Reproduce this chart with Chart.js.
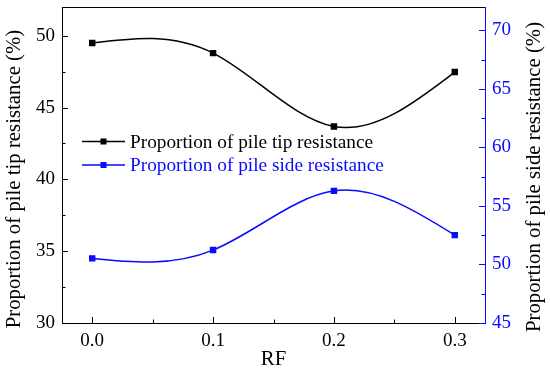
<!DOCTYPE html>
<html>
<head>
<meta charset="utf-8">
<script src="https://cdn.jsdelivr.net/npm/chart.js@4.4.1/dist/chart.umd.min.js"></script>
<style>
  body { margin: 0; background: #fff; }
  #wrap { width: 550px; height: 375px; position: relative; }
</style>
</head>
<body>
<div id="wrap"><canvas id="rfChart"></canvas></div>
<script>
const rfValues = [0.0, 0.1, 0.2, 0.3];
const tipShare = [49.49, 48.79, 43.68, 47.47];
const sideShare = [50.52, 51.23, 56.29, 52.51];

const xTicks = [0.0, 0.1, 0.2, 0.3];
const xMinor = [0.05, 0.15, 0.25];
const leftTicks = [30, 35, 40, 45, 50];
const leftMinor = [32.5, 37.5, 42.5, 47.5];
const rightTicks = [45, 50, 55, 60, 65, 70];
const rightMinor = [47.5, 52.5, 57.5, 62.5, 67.5];

const leftTitle = 'Proportion of pile tip resistance (%)';
const rightTitle = 'Proportion of pile side resistance (%)';

const BLUE = '#0a0aff';
const FONT = 'Liberation Serif';

// Origin-style natural spline: replace chart.js bezier control points
// with ones taken from a natural cubic spline through the same points
const naturalSpline = {
  id: 'naturalSpline',
  beforeDatasetsDraw(chart) {
    chart.data.datasets.forEach((ds, di) => {
      const meta = chart.getDatasetMeta(di);
      const pts = meta.data;
      const n = pts.length;
      if (n < 3) return;
      const h = [], d = [];
      for (let i = 0; i < n - 1; i++) {
        h.push(pts[i + 1].x - pts[i].x);
        d.push((pts[i + 1].y - pts[i].y) / h[i]);
      }
      // second derivatives, M[0] = M[n-1] = 0
      const M = new Array(n).fill(0);
      const a = [], b = [], c = [], r = [];
      for (let i = 1; i < n - 1; i++) {
        a.push(h[i - 1]);
        b.push(2 * (h[i - 1] + h[i]));
        c.push(h[i]);
        r.push(6 * (d[i] - d[i - 1]));
      }
      const m = b.length;
      for (let i = 1; i < m; i++) {
        const w = a[i] / b[i - 1];
        b[i] -= w * c[i - 1];
        r[i] -= w * r[i - 1];
      }
      const sol = new Array(m);
      sol[m - 1] = r[m - 1] / b[m - 1];
      for (let i = m - 2; i >= 0; i--) sol[i] = (r[i] - c[i] * sol[i + 1]) / b[i];
      for (let i = 0; i < m; i++) M[i + 1] = sol[i];

      const slope = [];
      for (let i = 0; i < n - 1; i++) slope.push(d[i] - h[i] * (2 * M[i] + M[i + 1]) / 6);
      slope.push(d[n - 2] + h[n - 2] * (M[n - 2] + 2 * M[n - 1]) / 6);

      for (let i = 0; i < n; i++) {
        const p = pts[i];
        const hl = i > 0 ? h[i - 1] / 3 : 0;
        const hr = i < n - 1 ? h[i] / 3 : 0;
        p.cp1x = p.x - hl; p.cp1y = p.y - hl * slope[i];
        p.cp2x = p.x + hr; p.cp2y = p.y + hr * slope[i];
      }
      meta.dataset._pointsUpdated = true;
      meta.dataset._path = undefined;
    });
  }
};

// ticks pointing into the plot, top frame line, axis titles and legend
const decorations = {
  id: 'decorations',
  afterDraw(chart) {
    const ctx = chart.ctx;
    const a = chart.chartArea;
    const sx = chart.scales.x, sl = chart.scales.yL, sr = chart.scales.yR;
    ctx.save();
    ctx.lineWidth = 1;

    ctx.strokeStyle = '#000';
    ctx.beginPath();
    ctx.moveTo(a.left, a.top + 0.5);
    ctx.lineTo(a.right, a.top + 0.5);
    xTicks.concat(xMinor).forEach(v => {
      const px = Math.round(sx.getPixelForValue(v)) + 0.5;
      const len = xTicks.includes(v) ? 6 : 3.5;
      ctx.moveTo(px, a.bottom);
      ctx.lineTo(px, a.bottom - len);
    });
    leftTicks.concat(leftMinor).forEach(v => {
      const py = Math.round(sl.getPixelForValue(v)) + 0.5;
      const len = leftTicks.includes(v) ? 6 : 3.5;
      ctx.moveTo(a.left, py);
      ctx.lineTo(a.left + len, py);
    });
    ctx.stroke();

    ctx.strokeStyle = BLUE;
    ctx.beginPath();
    rightTicks.concat(rightMinor).forEach(v => {
      const py = Math.round(sr.getPixelForValue(v)) + 0.5;
      const len = rightTicks.includes(v) ? 6 : 3.5;
      ctx.moveTo(a.right, py);
      ctx.lineTo(a.right - len, py);
    });
    ctx.stroke();

    // vertical axis titles, both reading bottom to top
    ctx.fillStyle = '#000';
    ctx.font = '20.8px "' + FONT + '"';
    ctx.textAlign = 'center';
    ctx.textBaseline = 'middle';
    [[15, 179, leftTitle], [535, 177, rightTitle]].forEach(([x, y, t]) => {
      ctx.save();
      ctx.translate(x, y);
      ctx.rotate(-Math.PI / 2);
      ctx.fillText(t, 0, 0);
      ctx.restore();
    });

    // legend
    const rows = [141.5, 165];
    ctx.textAlign = 'left';
    ctx.font = '19.3px "' + FONT + '"';
    chart.data.datasets.forEach((ds, i) => {
      const y = rows[i];
      ctx.strokeStyle = ds.borderColor;
      ctx.lineWidth = 1.5;
      ctx.beginPath();
      ctx.moveTo(82, y);
      ctx.lineTo(125, y);
      ctx.stroke();
      ctx.fillStyle = ds.borderColor;
      ctx.fillRect(100.5, y - 3, 6, 6);
      ctx.fillText(ds.label, 130, y + 1);
    });
    ctx.restore();
  }
};

const noPad = s => { s.paddingTop = 0; s.paddingBottom = 0; s.paddingLeft = 0; s.paddingRight = 0; };

const ctx = document.getElementById('rfChart').getContext('2d');
new Chart(ctx, {
  type: 'line',
  data: {
    datasets: [
      {
        label: 'Proportion of pile tip resistance',
        data: rfValues.map((x, i) => ({ x: x, y: tipShare[i] })),
        yAxisID: 'yL',
        borderColor: '#000',
        backgroundColor: '#000',
        borderWidth: 1.5,
        pointStyle: 'rect',
        pointRadius: 3.5,
        tension: 0.4,
        fill: false
      },
      {
        label: 'Proportion of pile side resistance',
        data: rfValues.map((x, i) => ({ x: x, y: sideShare[i] })),
        yAxisID: 'yR',
        borderColor: BLUE,
        backgroundColor: BLUE,
        borderWidth: 1.5,
        pointStyle: 'rect',
        pointRadius: 3.5,
        tension: 0.4,
        fill: false
      }
    ]
  },
  options: {
    responsive: true,
    maintainAspectRatio: false,
    animation: false,
    layout: { padding: { top: 7, left: 0, right: 0, bottom: 0 } },
    plugins: {
      legend: { display: false },
      tooltip: { enabled: false }
    },
    scales: {
      x: {
        type: 'linear',
        min: -0.025,
        max: 0.325,
        afterBuildTicks: s => { s.ticks = xTicks.map(v => ({ value: v })); },
        afterFit: s => { s.height = 52; noPad(s); },
        grid: { drawOnChartArea: false, drawTicks: false },
        border: { color: '#000', width: 1 },
        ticks: {
          color: '#000',
          padding: 7,
          maxRotation: 0,
          font: { family: FONT, size: 19 },
          callback: v => Number(v).toFixed(1)
        },
        title: {
          display: true,
          text: 'RF',
          color: '#000',
          padding: { top: 0, bottom: 3 },
          font: { family: FONT, size: 20.8 }
        }
      },
      yL: {
        type: 'linear',
        position: 'left',
        min: 30,
        max: 52,
        afterBuildTicks: s => { s.ticks = leftTicks.map(v => ({ value: v })); },
        afterFit: s => { s.width = 62; noPad(s); },
        grid: { drawOnChartArea: false, drawTicks: false },
        border: { color: '#000', width: 1 },
        ticks: {
          color: '#000',
          padding: 7,
          font: { family: FONT, size: 19 }
        }
      },
      yR: {
        type: 'linear',
        position: 'right',
        min: 45,
        max: 72,
        afterBuildTicks: s => { s.ticks = rightTicks.map(v => ({ value: v })); },
        afterFit: s => { s.width = 65; noPad(s); },
        grid: { drawOnChartArea: false, drawTicks: false },
        border: { color: BLUE, width: 1 },
        ticks: {
          color: BLUE,
          padding: 7,
          font: { family: FONT, size: 19 }
        }
      }
    }
  },
  plugins: [naturalSpline, decorations]
});
</script>
</body>
</html>
